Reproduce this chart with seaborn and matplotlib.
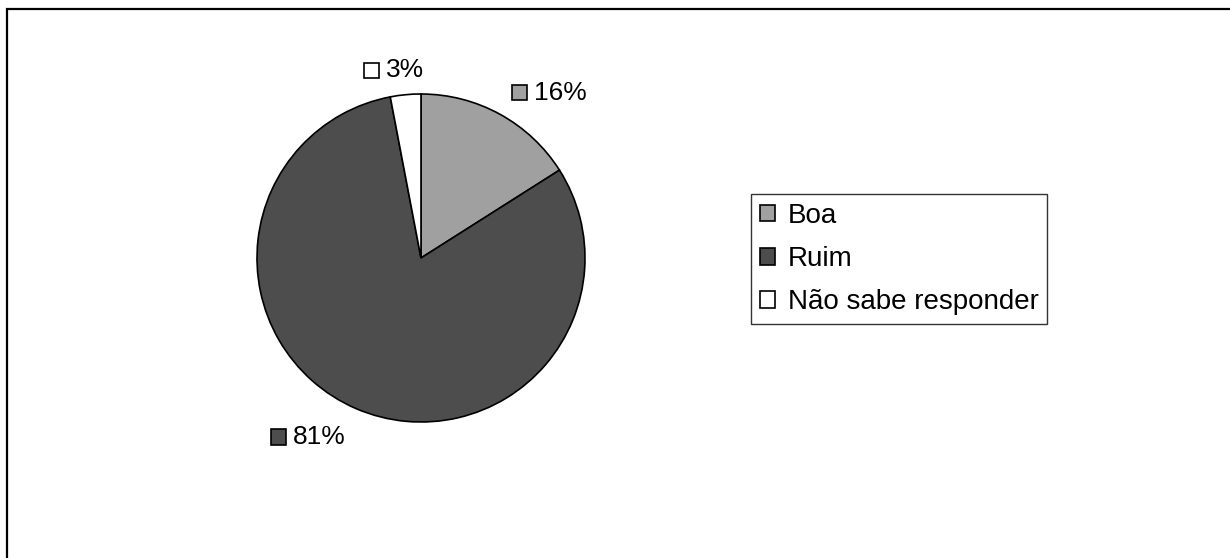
import numpy as np
import seaborn as sns
import matplotlib.pyplot as plt
from matplotlib.patches import Patch, Rectangle
from matplotlib.offsetbox import AnnotationBbox, HPacker, TextArea, DrawingArea

# data
categories = ['Boa', 'Ruim', 'Não sabe responder']
shares = [16, 81, 3]
colors = ['#a0a0a0', '#4d4d4d', '#ffffff']

sns.set_theme(style='white')
plt.rcParams['font.family'] = ['Liberation Sans', 'DejaVu Sans']
plt.rcParams['text.color'] = 'black'

fig = plt.figure(figsize=(12.3, 5.58), dpi=100)
ax = fig.add_axes([257 / 1230, (558 - 422) / 558, 328 / 1230, 328 / 558])

wedges, _ = ax.pie(shares, colors=colors, startangle=90, counterclock=False,
                   wedgeprops=dict(edgecolor='black', linewidth=1.2))
ax.set_xlim(-1, 1)
ax.set_ylim(-1, 1)
ax.set_aspect('equal')
ax.axis('off')

fs = 19

# percentage labels with a little square swatch
for w, val, col in zip(wedges, shares, colors):
    ang = np.deg2rad((w.theta1 + w.theta2) / 2)
    x, y = 1.15 * np.cos(ang), 1.15 * np.sin(ang)
    if x > 0.3:
        hx = 0.0
    elif x < -0.3:
        hx = 1.0
    else:
        hx = 0.65
    hy = 0.5 if y > 0 else 0.75
    da = DrawingArea(11, 11, 0, 0)
    da.add_artist(Rectangle((0, 0), 11, 11, facecolor=col, edgecolor='black', linewidth=1.2))
    ta = TextArea(f'{val}%', textprops=dict(fontsize=fs, color='black'))
    box = HPacker(children=[da, ta], align='center', pad=0, sep=5)
    ab = AnnotationBbox(box, (x, y), box_alignment=(hx, hy), frameon=False,
                        xycoords='data', annotation_clip=False)
    ax.add_artist(ab)

handles = [Patch(facecolor=c, edgecolor='black', linewidth=1.2) for c in colors]
leg = fig.legend(handles, categories, loc='upper left',
                 bbox_to_anchor=(751 / 1230, 1 - 194 / 558),
                 fontsize=20, frameon=True, fancybox=False, edgecolor='black',
                 handlelength=0.55, handleheight=0.55, handletextpad=0.45,
                 labelspacing=0.62, borderpad=0.32, borderaxespad=0,
                 labelcolor='black')
leg.get_frame().set_linewidth(1.0)

# outer chart frame
fig.add_artist(Rectangle((7 / 1230, -0.05), 1.1, 1 - 9 / 558 + 0.05,
                         transform=fig.transFigure, fill=False,
                         edgecolor='black', linewidth=1.6))

fig.savefig('out.png', dpi=100, facecolor='white')
